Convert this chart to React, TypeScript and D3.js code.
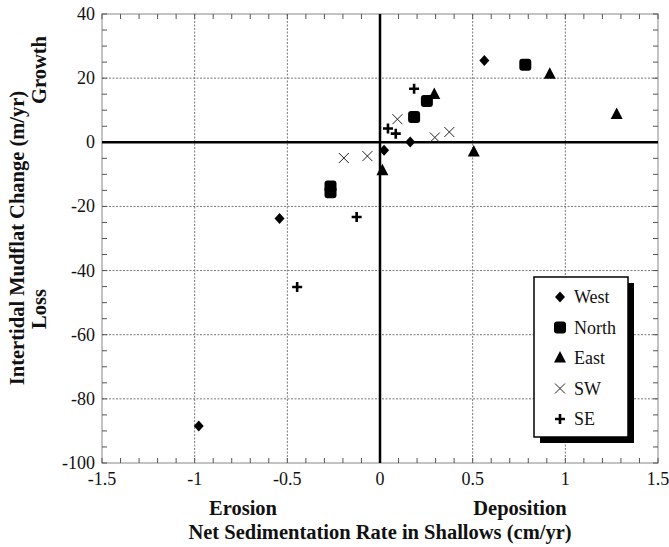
import * as d3 from 'd3';

const xTicks = [-1.5, -1, -0.5, 0, 0.5, 1, 1.5];
const xTickLabels = ['-1.5', '-1', '-0.5', '0', '0.5', '1', '1.5'];
const yTicks = [40, 20, 0, -20, -40, -60, -80, -100];

const west = [[0.563, 25.5], [0.163, 0.1], [0.022, -2.5], [-0.542, -23.8], [-0.978, -88.5]];
const north = [[0.784, 24.2], [0.253, 12.9], [0.184, 7.9], [-0.267, -13.8], [-0.267, -15.6]];
const east = [[0.916, 21.2], [0.293, 14.9], [1.277, 8.7], [0.506, -3.0], [0.013, -8.9]];
const sw = [[0.094, 7.2], [0.374, 3.2], [0.296, 1.5], [-0.068, -4.3], [-0.195, -4.9]];
const se = [[0.184, 16.7], [0.043, 4.3], [0.085, 2.7], [-0.126, -23.3], [-0.447, -45.1]];

const series = [
  { name: 'West', kind: 'diamond', data: west },
  { name: 'North', kind: 'square', data: north },
  { name: 'East', kind: 'triangle', data: east },
  { name: 'SW', kind: 'cross', data: sw },
  { name: 'SE', kind: 'plus', data: se },
];

const W = 669;
const H = 547;
const margin = { top: 14, right: 11, bottom: 84, left: 102 };
const FONT = "'Liberation Serif', 'Times New Roman', Times, serif";

const Marker = ({ kind, x, y }: { kind: string; x: number; y: number }) => {
  if (kind === 'diamond') {
    return <path d={`M${x},${y - 5.5}L${x + 5},${y}L${x},${y + 5.5}L${x - 5},${y}Z`} fill="#000" />;
  }
  if (kind === 'square') {
    return <rect x={x - 6} y={y - 6} width={12} height={12} rx={3} fill="#000" />;
  }
  if (kind === 'triangle') {
    return <path d={`M${x},${y - 7}L${x + 6},${y + 4.5}L${x - 6},${y + 4.5}Z`} fill="#000" />;
  }
  if (kind === 'cross') {
    return (
      <path d={`M${x - 5},${y - 5}L${x + 5},${y + 5}M${x - 5},${y + 5}L${x + 5},${y - 5}`} stroke="#222" strokeWidth={1} />
    );
  }
  return (
    <path d={`M${x - 5},${y}L${x + 5},${y}M${x},${y - 5}L${x},${y + 5}`} stroke="#000" strokeWidth={2.6} />
  );
};

export default function App() {
  const boundsW = W - margin.left - margin.right;
  const boundsH = H - margin.top - margin.bottom;

  const xScale = d3.scaleLinear().domain([-1.5, 1.5]).range([0, boundsW]);
  const yScale = d3.scaleLinear().domain([-100, 40]).range([boundsH, 0]);

  const xMinor = d3.range(-15, 16).map((d) => d / 10);
  const yMinor = d3.range(-100, 41, 5);

  const legendX = 534 - margin.left;
  const legendY = 277 - margin.top;
  const legendW = 94;
  const legendH = 160;

  return (
    <svg width={W} height={H} style={{ position: 'absolute', left: 0, top: 0, fontFamily: FONT }}>
      <rect width={W} height={H} fill="#fff" />
      <g transform={`translate(${margin.left},${margin.top})`}>
        {/* grid */}
        {xTicks.filter((t) => t !== 0 && Math.abs(t) !== 1.5).map((t) => (
          <line key={'gx' + t} x1={xScale(t)} x2={xScale(t)} y1={0} y2={boundsH} stroke="#777" strokeWidth={1} strokeDasharray="2,1.5" />
        ))}
        {yTicks.filter((t) => t !== 0 && t !== 40 && t !== -100).map((t) => (
          <line key={'gy' + t} x1={0} x2={boundsW} y1={yScale(t)} y2={yScale(t)} stroke="#777" strokeWidth={1} strokeDasharray="2,1.5" />
        ))}
        {/* frame */}
        <rect x={0} y={0} width={boundsW} height={boundsH} fill="none" stroke="#888" strokeWidth={1} />
        {/* minor ticks */}
        {xMinor.map((t) => (
          <g key={'tx' + t}>
            <line x1={xScale(t)} x2={xScale(t)} y1={0} y2={5} stroke="#555" />
            <line x1={xScale(t)} x2={xScale(t)} y1={boundsH} y2={boundsH - 5} stroke="#555" />
          </g>
        ))}
        {yMinor.map((t) => (
          <g key={'ty' + t}>
            <line x1={0} x2={5} y1={yScale(t)} y2={yScale(t)} stroke="#555" />
            <line x1={boundsW} x2={boundsW - 5} y1={yScale(t)} y2={yScale(t)} stroke="#555" />
          </g>
        ))}
        {/* zero lines */}
        <line x1={xScale(0)} x2={xScale(0)} y1={0} y2={boundsH} stroke="#000" strokeWidth={2.5} />
        <line x1={0} x2={boundsW} y1={yScale(0)} y2={yScale(0)} stroke="#000" strokeWidth={2.5} />
        {/* tick labels */}
        {xTicks.map((t, i) => (
          <text key={'xl' + t} x={xScale(t)} y={boundsH + 22} textAnchor="middle" fontSize={18} fill="#111">
            {xTickLabels[i]}
          </text>
        ))}
        {yTicks.map((t) => (
          <text key={'yl' + t} x={-7} y={yScale(t) + 6} textAnchor="end" fontSize={18} fill="#111">
            {t}
          </text>
        ))}
        {/* points */}
        {series.map((s) =>
          s.data.map((d, i) => <Marker key={s.name + i} kind={s.kind} x={xScale(d[0])} y={yScale(d[1])} />)
        )}
        {/* legend */}
        <rect x={legendX + 6} y={legendY + 6} width={legendW} height={legendH} fill="#000" />
        <rect x={legendX} y={legendY} width={legendW} height={legendH} fill="#fff" stroke="#000" strokeWidth={1.5} />
        {series.map((s, i) => {
          const ly = legendY + 20 + i * 30.5;
          return (
            <g key={'lg' + s.name}>
              <Marker kind={s.kind} x={legendX + 26} y={ly} />
              <text x={legendX + 40} y={ly + 6} fontSize={18} fill="#111">{s.name}</text>
            </g>
          );
        })}
      </g>
      {/* axis titles */}
      <text x={243} y={515} textAnchor="middle" fontSize={20.5} fontWeight="bold" fill="#111">Erosion</text>
      <text x={520} y={515} textAnchor="middle" fontSize={20.5} fontWeight="bold" fill="#111">Deposition</text>
      <text x={380} y={539} textAnchor="middle" fontSize={20.5} fontWeight="bold" fill="#111">Net Sedimentation Rate in Shallows (cm/yr)</text>
      <text transform="translate(24,238) rotate(-90)" textAnchor="middle" fontSize={20.5} fontWeight="bold" fill="#111">Intertidal Mudflat Change (m/yr)</text>
      <text transform="translate(46,70) rotate(-90)" textAnchor="middle" fontSize={20.5} fontWeight="bold" fill="#111">Growth</text>
      <text transform="translate(46,309) rotate(-90)" textAnchor="middle" fontSize={20.5} fontWeight="bold" fill="#111">Loss</text>
    </svg>
  );
}
